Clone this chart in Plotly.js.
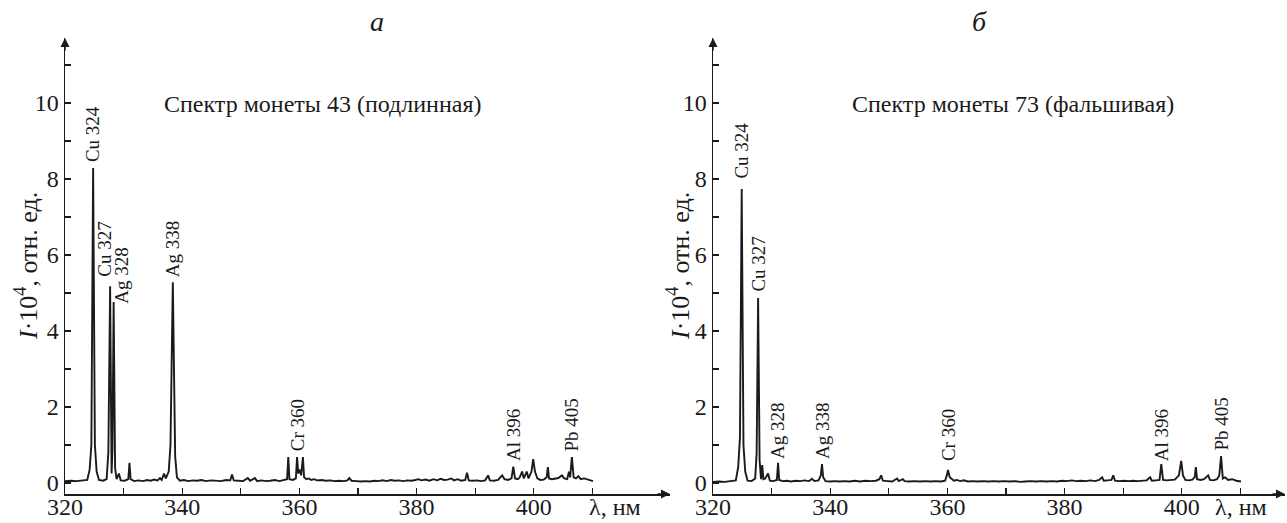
<!DOCTYPE html>
<html>
<head>
<meta charset="utf-8">
<script src="https://cdn.plot.ly/plotly-3.0.1.min.js"></script>
<style>html,body{margin:0;padding:0;background:#fff;}#chart{width:1287px;height:523px;}</style>
</head>
<body>
<div id="chart"></div>
<script>
// ---- Data ----
const panelTitles = ['а', 'б'];
const subtitles = ['Спектр монеты 43 (подлинная)', 'Спектр монеты 73 (фальшивая)'];
const yTitle = '<i>I</i>·10<sup>4</sup>, отн. ед.';
const xUnit = 'λ, нм';

const xTickVals = [320, 340, 360, 380, 400];
const xMinorVals = [330, 350, 370, 390, 410];
const yTickVals = [0, 2, 4, 6, 8, 10];
const yMinorVals = [1, 3, 5, 7, 9, 11];

// Spectrum of coin 43 (genuine)
const lambdaA = [320.0,321.0,322.0,323.0,323.8,324.2,324.5,324.8,325.1,325.4,325.8,326.5,327.1,327.4,327.7,327.95,328.1,328.3,328.55,328.8,329.2,329.5,330.2,330.8,331.0,331.2,331.8,332.5,333.3,334.0,334.6,335.2,335.8,336.2,336.5,336.9,337.2,337.7,338.0,338.4,338.8,339.1,339.6,340.3,341.0,341.8,342.5,343.3,344.0,345.0,345.8,346.6,347.5,348.2,348.5,348.8,349.6,350.4,351.2,351.6,352.4,352.8,353.5,354.3,355.0,355.8,356.6,357.4,357.9,358.1,358.3,358.9,359.4,359.6,359.8,360.1,360.3,360.6,360.8,361.2,361.6,362.0,362.5,363.0,363.8,364.5,365.3,366.0,366.8,367.6,368.2,368.5,368.9,369.7,370.5,371.3,372.0,372.8,373.5,374.2,374.9,375.6,376.3,377.0,377.7,378.4,379.1,379.8,380.3,380.8,381.5,382.2,382.9,383.5,384.1,384.7,385.3,385.9,386.4,387.0,387.6,388.3,388.6,388.9,389.6,390.3,391.0,391.7,392.2,392.5,393.2,393.9,394.6,395.0,395.6,396.2,396.5,396.8,397.3,397.6,398.0,398.3,398.8,399.1,399.6,399.9,400.2,400.6,401.1,401.7,402.2,402.4,402.6,403.1,403.7,404.2,404.8,405.2,405.7,406.0,406.2,406.5,406.8,407.2,407.6,408.0,408.6,409.3,410.1];
const intensityA = [0.05,0.06,0.05,0.07,0.08,0.35,1.0,8.29,1.0,0.3,0.08,0.06,0.1,0.8,5.18,0.25,0.9,4.76,0.4,0.1,0.25,0.07,0.06,0.1,0.53,0.1,0.05,0.07,0.05,0.08,0.06,0.09,0.07,0.13,0.08,0.25,0.12,0.3,1.0,5.28,0.7,0.15,0.06,0.08,0.05,0.07,0.06,0.08,0.05,0.07,0.06,0.05,0.08,0.07,0.22,0.07,0.06,0.05,0.13,0.06,0.13,0.05,0.07,0.05,0.06,0.08,0.05,0.07,0.1,0.68,0.1,0.08,0.12,0.68,0.25,0.35,0.2,0.68,0.15,0.1,0.12,0.08,0.1,0.07,0.08,0.06,0.07,0.05,0.06,0.05,0.07,0.13,0.06,0.05,0.04,0.05,0.04,0.06,0.05,0.07,0.05,0.08,0.06,0.07,0.05,0.07,0.06,0.08,0.1,0.07,0.09,0.06,0.1,0.07,0.11,0.08,0.09,0.12,0.07,0.1,0.06,0.08,0.27,0.07,0.06,0.07,0.05,0.07,0.2,0.07,0.06,0.08,0.2,0.1,0.08,0.12,0.43,0.12,0.1,0.15,0.3,0.12,0.3,0.12,0.3,0.63,0.3,0.12,0.08,0.09,0.15,0.42,0.12,0.1,0.11,0.13,0.2,0.12,0.1,0.3,0.15,0.68,0.15,0.12,0.18,0.1,0.12,0.08,0.05];

// Spectrum of coin 73 (counterfeit)
const lambdaB = [320.0,321.0,322.0,323.0,323.9,324.3,324.6,324.9,325.2,325.5,325.9,326.6,327.2,327.45,327.7,327.95,328.2,328.4,328.6,328.9,329.4,329.7,330.3,330.9,331.1,331.3,331.9,332.6,333.3,334.1,334.9,335.6,336.4,336.9,337.3,338.0,338.4,338.6,338.8,339.2,340.0,340.8,341.6,342.4,343.3,344.2,345.1,346.0,346.9,347.8,348.4,348.7,349.0,349.8,350.6,351.4,351.7,352.4,352.7,353.5,354.4,355.3,356.2,357.1,358.0,358.9,359.6,359.9,360.1,360.4,360.7,361.1,361.6,362.2,362.8,363.5,364.3,365.2,366.1,367.0,367.9,368.8,369.7,370.6,371.5,372.4,373.3,374.2,375.1,376.0,376.9,377.8,378.7,379.6,380.4,381.2,382.0,382.8,383.6,384.4,385.2,385.9,386.4,386.7,387.3,388.0,388.3,388.6,389.3,390.1,390.9,391.7,392.5,393.3,394.0,394.6,394.9,395.6,396.2,396.5,396.8,397.4,398.1,398.8,399.5,399.9,400.2,400.6,401.2,401.8,402.2,402.4,402.6,403.2,403.8,404.5,404.8,405.4,406.0,406.4,406.7,407.0,407.4,407.9,408.6,409.3,410.1];
const intensityB = [0.03,0.04,0.03,0.05,0.07,0.42,1.2,7.74,1.0,0.3,0.06,0.05,0.12,0.8,4.87,0.6,0.1,0.47,0.1,0.12,0.25,0.06,0.05,0.08,0.53,0.08,0.05,0.06,0.04,0.06,0.05,0.07,0.05,0.11,0.05,0.07,0.2,0.5,0.15,0.05,0.04,0.05,0.04,0.05,0.04,0.06,0.04,0.06,0.05,0.06,0.1,0.2,0.06,0.05,0.04,0.12,0.05,0.1,0.05,0.04,0.05,0.04,0.05,0.04,0.05,0.04,0.06,0.2,0.34,0.15,0.12,0.06,0.08,0.05,0.07,0.04,0.05,0.04,0.05,0.04,0.05,0.04,0.05,0.04,0.05,0.03,0.04,0.05,0.04,0.05,0.04,0.05,0.04,0.06,0.05,0.07,0.05,0.06,0.05,0.07,0.05,0.08,0.15,0.06,0.07,0.08,0.2,0.06,0.05,0.06,0.05,0.06,0.05,0.06,0.07,0.15,0.06,0.07,0.08,0.5,0.08,0.07,0.08,0.09,0.2,0.58,0.2,0.08,0.07,0.09,0.15,0.42,0.1,0.08,0.1,0.2,0.08,0.07,0.1,0.2,0.71,0.12,0.15,0.08,0.1,0.06,0.04];

// Peak labels
const peakNamesA = ['Cu 324', 'Cu 327', 'Ag 328', 'Ag 338', 'Cr 360', 'Al 396', 'Pb 405'];
const peakLambdaA = [324.8, 327.7, 328.3, 338.4, 359.6, 396.5, 406.5];
const peakHeightA = [8.29, 5.18, 4.76, 5.28, 0.68, 0.43, 0.68];
const peakNamesB = ['Cu 324', 'Cu 327', 'Ag 328', 'Ag 338', 'Cr 360', 'Al 396', 'Pb 405'];
const peakLambdaB = [324.9, 327.7, 331.1, 338.6, 360.1, 396.5, 406.7];
const peakHeightB = [7.74, 4.87, 0.53, 0.5, 0.34, 0.5, 0.71];

// ---- Styling / layout ----
const W = 1287, H = 523;
const px = v => v / W;
const py = v => (H - v) / H;
const FONT = 'Liberation Serif';
const INK = '#1a1a1a';
// label pixel nudges [xshift, yshift]
const shiftA = [[0,5],[-5,8],[7,-3],[0,4],[0,5],[0,5],[0,5]];
const shiftB = [[0,9],[0,5],[0,3],[0,4],[0,8],[0,2],[0,4]];

const yDomain = [py(494), py(38)];
const yRange = [-0.2895, 11.711];

function xAxis(domain, range, anchor) {
  return {
    domain: domain, range: range, anchor: anchor,
    showline: true, linecolor: INK, linewidth: 1.5,
    showgrid: false, zeroline: false,
    tickmode: 'array', tickvals: xTickVals, ticktext: xTickVals.map(String),
    ticks: 'inside', ticklen: 6, tickwidth: 1.3, tickcolor: INK,
    minor: {tickmode: 'array', tickvals: xMinorVals, ticks: 'inside', ticklen: 6, tickwidth: 1.3, tickcolor: INK, showgrid: false},
    tickfont: {family: FONT, size: 24, color: INK},
    ticklabelstandoff: -9,
    fixedrange: true
  };
}
function yAxis(anchor) {
  return {
    domain: yDomain, range: yRange, anchor: anchor,
    showline: true, linecolor: INK, linewidth: 1.5,
    showgrid: false, zeroline: false,
    tickmode: 'array', tickvals: yTickVals, ticktext: yTickVals.map(String),
    ticks: 'inside', ticklen: 6, tickwidth: 1.3, tickcolor: INK,
    minor: {tickmode: 'array', tickvals: yMinorVals, ticks: 'inside', ticklen: 6, tickwidth: 1.3, tickcolor: INK, showgrid: false},
    tickfont: {family: FONT, size: 24, color: INK},
    fixedrange: true
  };
}

const traces = [
  {x: lambdaA, y: intensityA, xaxis: 'x', yaxis: 'y', mode: 'lines', line: {color: INK, width: 1.9}, hoverinfo: 'skip'},
  {x: lambdaB, y: intensityB, xaxis: 'x2', yaxis: 'y2', mode: 'lines', line: {color: INK, width: 1.9}, hoverinfo: 'skip'}
];

const annotations = [];
function addPeakLabels(names, lams, hts, shifts, xr, yr) {
  names.forEach((n, i) => {
    annotations.push({
      xref: xr, yref: yr, x: lams[i], y: hts[i], text: n, showarrow: false,
      textangle: -90, xanchor: 'center', yanchor: 'bottom',
      xshift: shifts[i][0], yshift: shifts[i][1], borderpad: 0,
      font: {family: FONT, size: 19, color: INK}
    });
  });
}
addPeakLabels(peakNamesA, peakLambdaA, peakHeightA, shiftA, 'x', 'y');
addPeakLabels(peakNamesB, peakLambdaB, peakHeightB, shiftB, 'x2', 'y2');

// panel letters
annotations.push({xref: 'paper', yref: 'paper', x: px(377), y: py(22), text: '<i>' + panelTitles[0] + '</i>', showarrow: false, xanchor: 'center', yanchor: 'middle', font: {family: FONT, size: 28, color: INK}});
annotations.push({xref: 'paper', yref: 'paper', x: px(979), y: py(22), text: '<i>' + panelTitles[1] + '</i>', showarrow: false, xanchor: 'center', yanchor: 'middle', font: {family: FONT, size: 28, color: INK}});
// subtitles
annotations.push({xref: 'paper', yref: 'paper', x: px(162), y: py(104), text: subtitles[0], showarrow: false, xanchor: 'left', yanchor: 'middle', font: {family: FONT, size: 24, color: INK}});
annotations.push({xref: 'paper', yref: 'paper', x: px(850), y: py(104), text: subtitles[1], showarrow: false, xanchor: 'left', yanchor: 'middle', font: {family: FONT, size: 24, color: INK}});
// y titles
[27, 679].forEach(cx => annotations.push({xref: 'paper', yref: 'paper', x: px(cx), y: py(266), text: yTitle, showarrow: false, textangle: -90, xanchor: 'center', yanchor: 'middle', font: {family: FONT, size: 26, color: INK}}));
// x unit labels
annotations.push({xref: 'paper', yref: 'paper', x: px(587), y: py(507), text: xUnit, showarrow: false, xanchor: 'left', yanchor: 'middle', font: {family: FONT, size: 24, color: INK}});
annotations.push({xref: 'paper', yref: 'paper', x: px(1213), y: py(507), text: xUnit, showarrow: false, xanchor: 'left', yanchor: 'middle', font: {family: FONT, size: 24, color: INK}});
// arrowheads
function arrow(x, y, ax, ay) {
  annotations.push({xref: 'paper', yref: 'paper', x: px(x), y: py(y), ax: ax, ay: ay, text: '', showarrow: true, arrowhead: 2, arrowsize: 1.2, arrowwidth: 1.5, arrowcolor: INK, standoff: 0});
}
arrow(670, 494, -14, 0);
arrow(1285, 494, -14, 0);
arrow(65, 38, 0, 14);
arrow(713, 38, 0, 14);

const layout = {
  width: W, height: H,
  margin: {l: 0, r: 0, t: 0, b: 0},
  paper_bgcolor: '#fff', plot_bgcolor: 'rgba(0,0,0,0)',
  showlegend: false,
  xaxis: xAxis([px(65), px(670)], [320, 320 + 605 / 5.86], 'y'),
  yaxis: yAxis('x'),
  xaxis2: xAxis([px(713), px(1285)], [320, 320 + 572 / 5.86], 'y2'),
  yaxis2: yAxis('x2'),
  annotations: annotations
};

Plotly.newPlot('chart', traces, layout, {staticPlot: true, displayModeBar: false});
</script>
</body>
</html>
